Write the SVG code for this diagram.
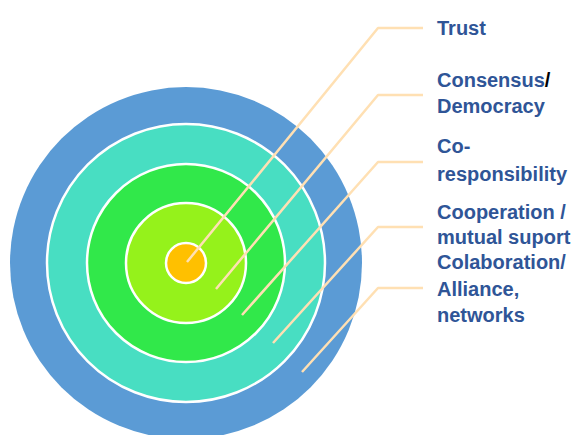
<svg xmlns="http://www.w3.org/2000/svg" width="582" height="435" viewBox="0 0 582 435">
<style>
.ring{stroke:#FFFFFF;stroke-width:2.5}
.lbl{font-family:"Liberation Sans",Arial,sans-serif;font-weight:bold;font-size:20px;fill:#2F5597}
.ldr{fill:none;stroke:#FFE0B3;stroke-width:2.5;stroke-linejoin:round}
</style>
<rect width="582" height="435" fill="#FFFFFF"/>
<g id="ring-alliance"><circle cx="186" cy="263" r="176" fill="#5B9BD5"/></g>
<g id="ring-cooperation"><circle class="ring" cx="186" cy="263" r="139" fill="#48DEC2"/></g>
<g id="ring-coresponsibility"><circle class="ring" cx="186" cy="263" r="99" fill="#31E84A"/></g>
<g id="ring-consensus"><circle class="ring" cx="186" cy="263" r="60" fill="#95F21B"/></g>
<g id="ring-trust"><circle class="ring" cx="186" cy="263" r="20" fill="#FFC000"/></g>
<g id="connectors">
<polyline class="ldr" points="187,262 378,28 423,28"/>
<polyline class="ldr" points="216,289 378,95 423,95"/>
<polyline class="ldr" points="242,315 378,162 423,162"/>
<polyline class="ldr" points="273,343 378,227 423,227"/>
<polyline class="ldr" points="302,372 378,288 423,288"/>
</g>
<g id="label-trust"><text class="lbl" x="437" y="35">Trust</text></g>
<g id="label-consensus"><text class="lbl" x="437" y="87">Consensus<tspan fill="#000000">/</tspan></text><text class="lbl" x="437" y="113">Democracy</text></g>
<g id="label-coresponsibility"><text class="lbl" x="437" y="153">Co-</text><text class="lbl" x="437" y="181">responsibility</text></g>
<g id="label-cooperation"><text class="lbl" x="437" y="219">Cooperation /</text><text class="lbl" x="437" y="244">mutual suport</text></g>
<g id="label-alliance"><text class="lbl" x="437" y="269">Colaboration/</text><text class="lbl" x="437" y="296">Alliance,</text><text class="lbl" x="437" y="322">networks</text></g>
</svg>
